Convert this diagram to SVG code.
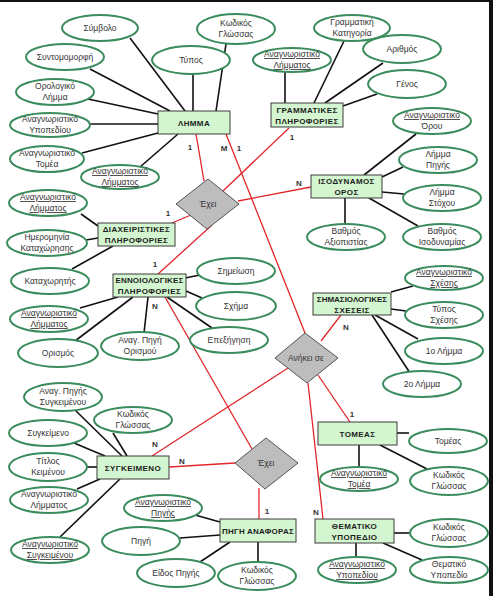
<svg xmlns="http://www.w3.org/2000/svg" width="493" height="596" viewBox="0 0 493 596">
<style>
.bg{fill:#ffffff}
.frame{fill:#111111}
.ent rect{fill:#d3f5cf;stroke:#3d3d3d;stroke-width:1}
.rel polygon{fill:#bdbdbd;stroke:#555555;stroke-width:1}
.att ellipse{fill:#ffffff;stroke:#3b8c5c;stroke-width:2}
.bl line{stroke:#111111;stroke-width:1.6}
.rd line{stroke:#e0262b;stroke-width:1.3}
text{font-family:"Liberation Sans",Arial,sans-serif;text-anchor:middle}
.et{font-size:8px;font-weight:bold;fill:#1c1c1c;letter-spacing:0.4px}
.at{font-size:8.5px;fill:#333333}
.u{text-decoration:underline}
.rt{font-size:8.5px;fill:#333333}
.cl{font-size:8px;font-weight:bold;fill:#333333}
</style>
<rect class="bg" x="0" y="0" width="493" height="596"/>
<rect class="frame" x="0" y="0" width="493" height="2"/>
<rect class="frame" x="489" y="0" width="4" height="596"/>

<g id="connectors">
<g class="bl">
<line x1="130" y1="38" x2="185" y2="111"/>
<line x1="193" y1="74" x2="193" y2="111"/>
<line x1="226" y1="44" x2="216" y2="111"/>
<line x1="90" y1="69" x2="170" y2="111"/>
<line x1="88" y1="99" x2="158" y2="114"/>
<line x1="89" y1="124" x2="158" y2="124"/>
<line x1="82" y1="153" x2="158" y2="133"/>
<line x1="140" y1="167" x2="178" y2="134"/>
<line x1="285" y1="72" x2="285" y2="103"/>
<line x1="344" y1="41" x2="314" y2="103"/>
<line x1="383" y1="63" x2="325" y2="103"/>
<line x1="377" y1="94" x2="343" y2="106"/>
<line x1="416" y1="134" x2="364" y2="175"/>
<line x1="403" y1="167" x2="382" y2="177"/>
<line x1="382" y1="192" x2="404" y2="194"/>
<line x1="345" y1="198" x2="345" y2="224"/>
<line x1="369" y1="198" x2="418" y2="226"/>
<line x1="81" y1="214" x2="98" y2="226"/>
<line x1="86" y1="240" x2="98" y2="238"/>
<line x1="72" y1="269" x2="113" y2="246"/>
<line x1="185" y1="278" x2="200" y2="275"/>
<line x1="186" y1="291" x2="202" y2="298"/>
<line x1="167" y1="297" x2="212" y2="328"/>
<line x1="80" y1="308" x2="118" y2="297"/>
<line x1="75" y1="341" x2="133" y2="297"/>
<line x1="144" y1="333" x2="148" y2="297"/>
<line x1="391" y1="292" x2="413" y2="286"/>
<line x1="391" y1="309" x2="406" y2="311"/>
<line x1="375" y1="315" x2="418" y2="339"/>
<line x1="372" y1="315" x2="410" y2="373"/>
<line x1="75" y1="410" x2="122" y2="456"/>
<line x1="113" y1="433" x2="127" y2="456"/>
<line x1="74" y1="443" x2="105" y2="456"/>
<line x1="87" y1="467" x2="97" y2="467"/>
<line x1="77" y1="489" x2="100" y2="479"/>
<line x1="60" y1="537" x2="120" y2="479"/>
<line x1="195" y1="515" x2="220" y2="522"/>
<line x1="180" y1="538" x2="220" y2="535"/>
<line x1="200" y1="562" x2="230" y2="542"/>
<line x1="258" y1="542" x2="258" y2="562"/>
<line x1="397" y1="433" x2="409" y2="433"/>
<line x1="359" y1="445" x2="359" y2="467"/>
<line x1="380" y1="445" x2="427" y2="469"/>
<line x1="394" y1="533" x2="410" y2="533"/>
<line x1="356" y1="543" x2="356" y2="557"/>
<line x1="383" y1="543" x2="422" y2="560"/>
</g>
<g class="rd">
<line x1="196" y1="134" x2="204" y2="181"/>
<line x1="289" y1="128" x2="223" y2="191"/>
<line x1="311" y1="187" x2="238" y2="201"/>
<line x1="172" y1="223" x2="191" y2="215"/>
<line x1="158" y1="274" x2="212" y2="225"/>
<line x1="226" y1="134" x2="305" y2="333"/>
<line x1="341" y1="315" x2="321" y2="341"/>
<line x1="152" y1="456" x2="288" y2="368"/>
<line x1="308" y1="383" x2="323" y2="519"/>
<line x1="318" y1="375" x2="350" y2="422"/>
<line x1="165" y1="297" x2="252" y2="449"/>
<line x1="169" y1="467" x2="235" y2="463"/>
<line x1="259" y1="488" x2="259" y2="519"/>
</g>
<g class="cl">
<text x="190" y="150">1</text>
<text x="292" y="140">1</text>
<text x="299" y="186">N</text>
<text x="168" y="216">1</text>
<text x="155" y="267">1</text>
<text x="224" y="151">M</text>
<text x="239" y="151">1</text>
<text x="346" y="330">N</text>
<text x="155" y="447">N</text>
<text x="316" y="515">N</text>
<text x="352" y="417">1</text>
<text x="155" y="309">N</text>
<text x="182" y="464">N</text>
<text x="267" y="514">1</text>
</g>
</g>

<g id="r_exei1" class="rel"><polygon points="208,179 239,204 207,229 176,204"/><text class="rt" x="208" y="207">Έχει</text></g>
<g id="r_anikei" class="rel"><polygon points="305,333 338,358 307,383 275,358"/><text class="rt" x="306" y="361">Ανήκει σε</text></g>
<g id="r_exei2" class="rel"><polygon points="266,438 298,463 265,489 235,463"/><text class="rt" x="266" y="466">Έχει</text></g>

<g id="e_lemma" class="ent"><rect x="158" y="111" width="72" height="23"/><text class="et" x="194" y="125.5">ΛΗΜΜΑ</text></g>
<g id="e_gram" class="ent"><rect x="271" y="103" width="72" height="24"/><text class="et" x="307" y="112.5">ΓΡΑΜΜΑΤΙΚΕΣ</text><text class="et" x="307" y="123.5">ΠΛΗΡΟΦΟΡΙΕΣ</text></g>
<g id="e_isod" class="ent"><rect x="311" y="175" width="71" height="23"/><text class="et" x="346.5" y="184">ΙΣΟΔΥΝΑΜΟΣ</text><text class="et" x="346.5" y="195">ΟΡΟΣ</text></g>
<g id="e_diax" class="ent"><rect x="98" y="223" width="77" height="23"/><text class="et" x="136.5" y="232">ΔΙΑΧΕΙΡΙΣΤΙΚΕΣ</text><text class="et" x="136.5" y="243">ΠΛΗΡΟΦΟΡΙΕΣ</text></g>
<g id="e_ennoi" class="ent"><rect x="113" y="274" width="73" height="23"/><text class="et" x="149.5" y="283" style="letter-spacing:0.2px">ΕΝΝΟΙΟΛΟΓΙΚΕΣ</text><text class="et" x="149.5" y="294">ΠΛΗΡΟΦΟΡΙΕΣ</text></g>
<g id="e_simas" class="ent"><rect x="313" y="293" width="78" height="22"/><text class="et" x="352" y="302" style="letter-spacing:0px">ΣΗΜΑΣΙΟΛΟΓΙΚΕΣ</text><text class="et" x="352" y="313">ΣΧΕΣΕΙΣ</text></g>
<g id="e_sygk" class="ent"><rect x="97" y="456" width="72" height="23"/><text class="et" x="133" y="470.5">ΣΥΓΚΕΙΜΕΝΟ</text></g>
<g id="e_pigi" class="ent"><rect x="220" y="519" width="76" height="23"/><text class="et" x="258" y="533.5" style="letter-spacing:0.2px">ΠΗΓΗ ΑΝΑΦΟΡΑΣ</text></g>
<g id="e_tomeas" class="ent"><rect x="318" y="422" width="79" height="23"/><text class="et" x="357.5" y="436.5">ΤΟΜΕΑΣ</text></g>
<g id="e_them" class="ent"><rect x="315" y="519" width="79" height="24"/><text class="et" x="354.5" y="528.5">ΘΕΜΑΤΙΚΟ</text><text class="et" x="354.5" y="539.5">ΥΠΟΠΕΔΙΟ</text></g>

<g id="a_symbolo" class="att"><ellipse cx="100" cy="28" rx="38" ry="13"/><text class="at" x="100" y="31">Σύμβολο</text></g>
<g id="a_kodikos1" class="att"><ellipse cx="236" cy="29" rx="39" ry="15"/><text class="at" x="236" y="26">Κωδικός</text><text class="at" x="236" y="37">Γλώσσας</text></g>
<g id="a_typos" class="att"><ellipse cx="191" cy="60" rx="39" ry="14"/><text class="at" x="191" y="63">Τύπος</text></g>
<g id="a_syntom" class="att"><ellipse cx="65" cy="57" rx="39" ry="13"/><text class="at" x="65" y="60">Συντομομορφή</text></g>
<g id="a_orolog" class="att"><ellipse cx="55" cy="92" rx="39" ry="13"/><text class="at" x="55" y="89">Ορολογικό</text><text class="at" x="55" y="100">Λήμμα</text></g>
<g id="a_anagypo1" class="att"><ellipse cx="50" cy="125" rx="40" ry="12"/><text class="at" x="50" y="122">Αναγνωριστικό</text><text class="at" x="50" y="133">Υποπεδίου</text></g>
<g id="a_anagtom1" class="att"><ellipse cx="47" cy="159" rx="37" ry="13"/><text class="at" x="47" y="156">Αναγνωριστικό</text><text class="at" x="47" y="167">Τομέα</text></g>
<g id="a_anaglem1" class="att"><ellipse cx="120" cy="177" rx="39" ry="12"/><text class="at u" x="120" y="174">Αναγνωριστικό</text><text class="at u" x="120" y="185">Λήμματος</text></g>

<g id="a_grkat" class="att"><ellipse cx="352" cy="28" rx="38" ry="13"/><text class="at" x="352" y="25">Γραμματική</text><text class="at" x="352" y="36">Κατηγορία</text></g>
<g id="a_anaglem2" class="att"><ellipse cx="292" cy="60" rx="39" ry="12"/><text class="at u" x="292" y="57">Αναγνωριστικό</text><text class="at u" x="292" y="68">Λήμματος</text></g>
<g id="a_arithmos" class="att"><ellipse cx="402" cy="49" rx="39" ry="14"/><text class="at" x="402" y="52">Αριθμός</text></g>
<g id="a_genos" class="att"><ellipse cx="407" cy="84" rx="39" ry="14"/><text class="at" x="407" y="87">Γένος</text></g>
<g id="a_anagoro" class="att"><ellipse cx="432" cy="121" rx="39" ry="13"/><text class="at u" x="432" y="118">Αναγνωριστικό</text><text class="at" x="432" y="129">Όρου</text></g>
<g id="a_lempig" class="att"><ellipse cx="438" cy="160" rx="39" ry="13"/><text class="at" x="438" y="157">Λήμμα</text><text class="at" x="438" y="168">Πηγής</text></g>
<g id="a_lemsto" class="att"><ellipse cx="442" cy="198" rx="39" ry="13"/><text class="at" x="442" y="195">Λήμμα</text><text class="at" x="442" y="206">Στόχου</text></g>
<g id="a_vathax" class="att"><ellipse cx="346" cy="237" rx="39" ry="13"/><text class="at" x="346" y="234">Βαθμός</text><text class="at" x="346" y="245">Αξιοπιστίας</text></g>
<g id="a_vathis" class="att"><ellipse cx="442" cy="237" rx="39" ry="13"/><text class="at" x="442" y="234">Βαθμός</text><text class="at" x="442" y="245">Ισοδυναμίας</text></g>
<g id="a_anagsx" class="att"><ellipse cx="444" cy="278" rx="39" ry="12"/><text class="at u" x="444" y="275">Αναγνωριστικό</text><text class="at u" x="444" y="286">Σχέσης</text></g>
<g id="a_typsx" class="att"><ellipse cx="444" cy="315" rx="39" ry="13"/><text class="at" x="444" y="312">Τύπος</text><text class="at" x="444" y="323">Σχέσης</text></g>
<g id="a_lem1" class="att"><ellipse cx="444" cy="351" rx="39" ry="13"/><text class="at" x="444" y="354">1ο Λήμμα</text></g>
<g id="a_lem2" class="att"><ellipse cx="422" cy="384" rx="39" ry="13"/><text class="at" x="422" y="387">2ο Λήμμα</text></g>

<g id="a_anaglem3" class="att"><ellipse cx="48" cy="203" rx="39" ry="13"/><text class="at u" x="48" y="200">Αναγνωριστικό</text><text class="at u" x="48" y="211">Λήμματος</text></g>
<g id="a_imer" class="att"><ellipse cx="47" cy="243" rx="40" ry="13"/><text class="at" x="47" y="240">Ημερομηνία</text><text class="at" x="47" y="251">Καταχώρησης</text></g>
<g id="a_katax" class="att"><ellipse cx="50" cy="281" rx="39" ry="13"/><text class="at" x="50" y="284">Καταχωρητής</text></g>
<g id="a_simeiosi" class="att"><ellipse cx="236" cy="271" rx="39" ry="13"/><text class="at" x="236" y="274">Σημείωση</text></g>
<g id="a_sxima" class="att"><ellipse cx="236" cy="306" rx="40" ry="14"/><text class="at" x="236" y="309">Σχήμα</text></g>
<g id="a_epex" class="att"><ellipse cx="229" cy="340" rx="39" ry="13"/><text class="at" x="229" y="343">Επεξήγηση</text></g>
<g id="a_anaglem4" class="att"><ellipse cx="49" cy="319" rx="39" ry="13"/><text class="at u" x="49" y="316">Αναγνωριστικό</text><text class="at u" x="49" y="327">Λήμματος</text></g>
<g id="a_orismos" class="att"><ellipse cx="58" cy="353" rx="40" ry="14"/><text class="at" x="58" y="356">Ορισμός</text></g>
<g id="a_anagpor" class="att"><ellipse cx="140" cy="346" rx="39" ry="14"/><text class="at" x="140" y="343">Αναγ. Πηγή</text><text class="at" x="140" y="354">Ορισμού</text></g>

<g id="a_anagpsyg" class="att"><ellipse cx="63" cy="397" rx="39" ry="14"/><text class="at" x="63" y="394">Αναγ. Πηγής</text><text class="at" x="63" y="405">Συγκειμένου</text></g>
<g id="a_kodikos2" class="att"><ellipse cx="133" cy="420" rx="39" ry="13"/><text class="at" x="133" y="417">Κωδικός</text><text class="at" x="133" y="428">Γλώσσας</text></g>
<g id="a_sygkeimeno" class="att"><ellipse cx="48" cy="433" rx="39" ry="13"/><text class="at" x="48" y="436">Συγκείμενο</text></g>
<g id="a_titlos" class="att"><ellipse cx="48" cy="467" rx="39" ry="14"/><text class="at" x="48" y="464">Τίτλος</text><text class="at" x="48" y="475">Κειμένου</text></g>
<g id="a_anaglem5" class="att"><ellipse cx="49" cy="500" rx="39" ry="13"/><text class="at" x="49" y="497">Αναγνωριστικό</text><text class="at" x="49" y="508">Λήμματος</text></g>
<g id="a_anagsyg" class="att"><ellipse cx="50" cy="550" rx="39" ry="13"/><text class="at u" x="50" y="547">Αναγνωριστικό</text><text class="at u" x="50" y="558">Συγκειμένου</text></g>
<g id="a_anagpig" class="att"><ellipse cx="163" cy="508" rx="39" ry="13"/><text class="at u" x="163" y="505">Αναγνωριστικό</text><text class="at u" x="163" y="516">Πηγής</text></g>
<g id="a_pigi" class="att"><ellipse cx="141" cy="541" rx="39" ry="14"/><text class="at" x="141" y="544">Πηγή</text></g>
<g id="a_eidos" class="att"><ellipse cx="176" cy="573" rx="39" ry="14"/><text class="at" x="176" y="576">Είδος Πηγής</text></g>
<g id="a_kodikos3" class="att"><ellipse cx="257" cy="576" rx="39" ry="14"/><text class="at" x="257" y="573">Κωδικός</text><text class="at" x="257" y="584">Γλώσσας</text></g>

<g id="a_tomeas" class="att"><ellipse cx="448" cy="441" rx="39" ry="12"/><text class="at" x="448" y="444">Τομέας</text></g>
<g id="a_anagtom2" class="att"><ellipse cx="359" cy="479" rx="39" ry="12"/><text class="at u" x="359" y="476">Αναγνωριστικό</text><text class="at u" x="359" y="487">Τομέα</text></g>
<g id="a_kodikos4" class="att"><ellipse cx="449" cy="481" rx="39" ry="14"/><text class="at" x="449" y="478">Κωδικός</text><text class="at" x="449" y="489">Γλώσσας</text></g>
<g id="a_kodikos5" class="att"><ellipse cx="449" cy="533" rx="39" ry="14"/><text class="at" x="449" y="530">Κωδικός</text><text class="at" x="449" y="541">Γλώσσας</text></g>
<g id="a_anagypo2" class="att"><ellipse cx="357" cy="570" rx="39" ry="13"/><text class="at u" x="357" y="567">Αναγνωριστικό</text><text class="at u" x="357" y="578">Υποπεδίου</text></g>
<g id="a_themypo" class="att"><ellipse cx="449" cy="570" rx="39" ry="13"/><text class="at" x="449" y="567">Θεματικό</text><text class="at" x="449" y="578">Υποπεδίο</text></g>
</svg>
